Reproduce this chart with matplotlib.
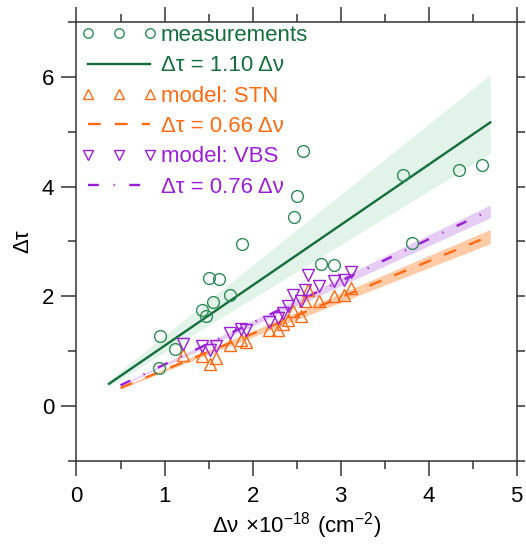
import numpy as np
import matplotlib
matplotlib.use("Agg")
import matplotlib.pyplot as plt
from matplotlib.ticker import MultipleLocator

plt.rcParams['font.family'] = ['Liberation Sans', 'DejaVu Sans']

# measurements (green circles)
meas_x = [0.95, 1.12, 0.94, 1.43, 1.47, 1.55, 1.51, 1.62, 1.74, 1.88,
          2.47, 2.51, 2.57, 2.78, 2.92, 3.71, 3.81, 4.34, 4.61]
meas_y = [1.28, 1.04, 0.70, 1.75, 1.64, 1.89, 2.33, 2.32, 2.03, 2.96,
          3.44, 3.83, 4.64, 2.59, 2.58, 4.21, 2.97, 4.30, 4.39]

# model points, same dv for both models
model_x = [1.21, 1.43, 1.52, 1.59, 1.74, 1.87, 1.93, 2.19, 2.29, 2.35,
           2.40, 2.46, 2.55, 2.59, 2.63, 2.75, 2.92, 3.04, 3.12]
stn_y = [0.94, 0.91, 0.76, 0.88, 1.12, 1.21, 1.16, 1.38, 1.38, 1.49,
         1.56, 1.74, 1.65, 1.91, 2.12, 1.91, 2.01, 2.03, 2.16]
vbs_y = [1.13, 1.09, 1.03, 1.10, 1.33, 1.41, 1.38, 1.53, 1.61, 1.70,
         1.82, 2.03, 1.92, 2.12, 2.38, 2.19, 2.28, 2.29, 2.45]

# fits: slope, slope band (low, high), x range
meas_fit = 1.10
meas_band = (0.98, 1.285)
meas_range = (0.37, 4.7)
stn_fit = 0.66
stn_band = (0.63, 0.685)
vbs_fit = 0.76
vbs_band = (0.73, 0.78)
model_range = (0.5, 4.7)

green = '#146e3c'
green_m = '#2f8a57'
orange = '#ff6a12'
purple = '#9a1fd6'

fig = plt.figure(figsize=(5.26, 5.48), dpi=100)
ax = fig.add_axes([0.1454, 0.1588, 0.8369, 0.8011])

xm = np.linspace(*meas_range, 50)
xs = np.linspace(*model_range, 50)

ax.fill_between(xm, meas_band[0] * xm, meas_band[1] * xm, color='#e2f3e9', lw=0, zorder=1)
ax.fill_between(xs, vbs_band[0] * xs, vbs_band[1] * xs, color='#e6cdf6', lw=0, zorder=1)
ax.fill_between(xs, stn_band[0] * xs, stn_band[1] * xs, color='#ffcaa6', lw=0, zorder=1)

ax.plot(meas_x, meas_y, 'o', mfc='none', mec=green_m, ms=8.5, mew=1.0,
        label='measurements', zorder=4)
ax.plot(xm, meas_fit * xm, '-', color=green, lw=1.7, label='Δτ = 1.10 Δν', zorder=3)
ax.plot(model_x, stn_y, '^', mfc='none', mec=orange, ms=8.5, mew=1.0,
        label='model: STN', zorder=4)
ax.plot(xs, stn_fit * xs, color=orange, lw=1.7, dashes=(5.4, 6.0), label='Δτ = 0.66 Δν', zorder=3)
ax.plot(model_x, vbs_y, 'v', mfc='none', mec=purple, ms=8.5, mew=1.0,
        label='model: VBS', zorder=4)
ax.plot(xs, vbs_fit * xs, color=purple, lw=1.7, dashes=(4.6, 6.2, 0.5, 6.2), label='Δτ = 0.76 Δν', zorder=3)

ax.set_xlim(0, 5)
ax.set_ylim(-1, 7)

ax.xaxis.set_major_locator(MultipleLocator(1))
ax.xaxis.set_minor_locator(MultipleLocator(0.5))
ax.yaxis.set_major_locator(MultipleLocator(2))
ax.yaxis.set_minor_locator(MultipleLocator(1))

spine_c = '#333333'
for s in ax.spines.values():
    s.set_color(spine_c)
    s.set_linewidth(1.1)

ax.tick_params(which='both', direction='out', color=spine_c, width=1.1,
               top=True, right=False, labelsize=16)
ax.tick_params(which='major', length=11)
ax.tick_params(which='minor', length=5.5)
ax.tick_params(axis='x', which='major', pad=7)
ax.tick_params(axis='y', which='major', pad=5)

# right side: short ticks at every integer
ax_r = ax.twinx()
ax_r.set_ylim(ax.get_ylim())
ax_r.yaxis.set_major_locator(MultipleLocator(1))
ax_r.tick_params(axis='y', direction='out', length=6, width=1.1, color=spine_c,
                 labelright=False)
for s in ax_r.spines.values():
    s.set_visible(False)

ax.set_xlabel(r'$\mathregular{Δν\ ×10^{-18}\ (cm^{-2})}$', fontsize=16, labelpad=2)
ax.set_ylabel('Δτ', fontsize=16, labelpad=6)

leg = ax.legend(loc='upper left', bbox_to_anchor=(0.01, 0.993), frameon=False,
                numpoints=3, handlelength=3.4, handletextpad=0.2, markerscale=0.8,
                labelspacing=0.42, borderpad=0, borderaxespad=0, fontsize=16)
for txt, c in zip(leg.get_texts(), [green, green, orange, orange, purple, purple]):
    txt.set_color(c)

fig.savefig('out.png', dpi=100)
